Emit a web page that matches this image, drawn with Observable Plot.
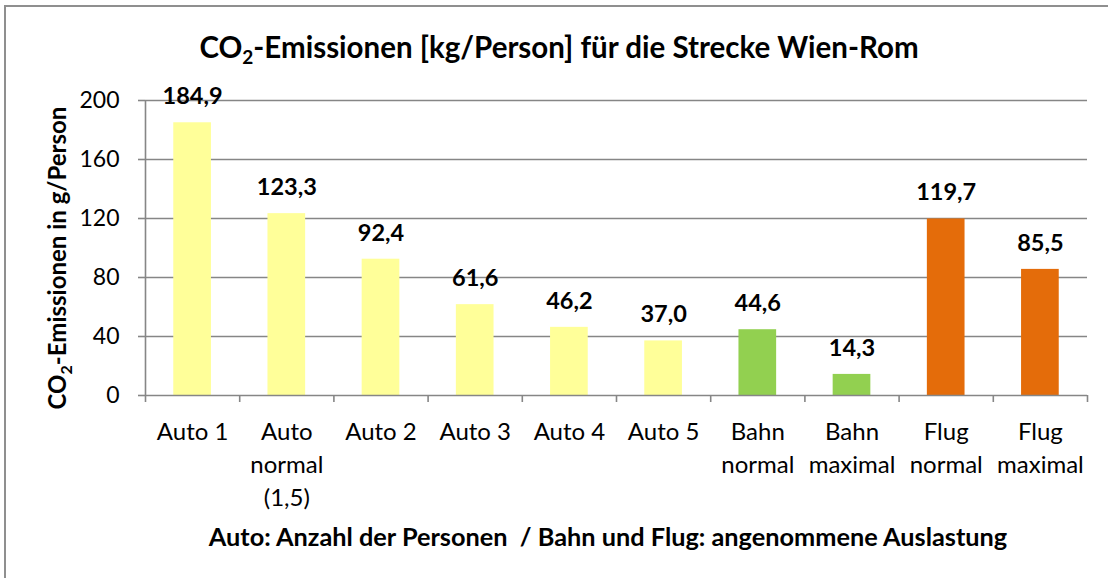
<!DOCTYPE html>
<html><head><meta charset="utf-8">
<script src="https://cdn.jsdelivr.net/npm/d3@7"></script>
<script src="https://cdn.jsdelivr.net/npm/@observablehq/plot@0.6"></script>
<style>
body{margin:0;background:#fff;font-family:Lato,"Open Sans",sans-serif;}
#wrap{position:relative;width:1108px;height:578px;overflow:hidden;background:#fff}
#frame{position:absolute;left:4px;top:5px;width:1200px;height:700px;border-top:2px solid #8f8f8f;border-left:2px solid #8f8f8f;box-sizing:border-box}
#title{position:absolute;left:0;top:29px;width:1118px;text-align:center;font-size:29.5px;font-weight:bold;line-height:36px;color:#000}
#title sub{font-size:19px;vertical-align:-6px;line-height:0}
#chart{position:absolute;left:0;top:70px}
#caption{position:absolute;left:0;top:520px;width:1216px;text-align:center;font-size:25.3px;font-weight:bold;line-height:32px;white-space:pre;color:#000}
</style></head>
<body>
<div id="wrap">
  <div id="frame"></div>
  <div id="title">CO<sub>2</sub>-Emissionen [kg/Person] für die Strecke Wien-Rom</div>
  <div id="chart"></div>
  <div id="caption">Auto: Anzahl der Personen  / Bahn und Flug: angenommene Auslastung</div>
</div>
<script>
const categories = ["Auto 1","Auto\nnormal\n(1,5)","Auto 2","Auto 3","Auto 4","Auto 5","Bahn\nnormal","Bahn\nmaximal","Flug\nnormal","Flug\nmaximal"];
const values = [184.9,123.3,92.4,61.6,46.2,37.0,44.6,14.3,119.7,85.5];
const groups = ["Auto","Auto","Auto","Auto","Auto","Auto","Bahn","Bahn","Flug","Flug"];
const groupNames = ["Auto","Bahn","Flug"];
const groupColors = ["#FFFF99","#92D050","#E46C0A"];
const yTicks = [0,40,80,120,160,200];

const data = categories.map((c,i)=>({i, category:c, value:values[i], group:groups[i]}));
const fmt = v => d3.format(".1f")(v).replace(".", ",");
const gridColor = "#868686";

const chart = Plot.plot({
  width: 1108,
  height: 508,
  marginLeft: 145,
  marginRight: 21,
  marginTop: 30,
  marginBottom: 183,
  style: {fontFamily: "Lato, 'Open Sans', sans-serif", fontSize: "23px", color: "#000", background: "transparent", overflow: "visible"},
  x: {type: "linear", domain: [0, categories.length]},
  y: {domain: [0, 200]},
  color: {domain: groupNames, range: groupColors},
  marks: [
    Plot.gridY(yTicks.slice(1), {stroke: gridColor, strokeOpacity: 1, strokeWidth: 1.6}),
    Plot.rectY(data, {x1: d => d.i + 0.3, x2: d => d.i + 0.7, y: "value", fill: "group"}),
    Plot.ruleY([0], {stroke: gridColor, strokeWidth: 1.6}),
    Plot.ruleX([0], {stroke: gridColor, strokeWidth: 1.6}),
    Plot.axisY(yTicks, {tickSize: 7, tickPadding: 19, label: null, stroke: gridColor, strokeWidth: 1.6, fill: "#000", fontSize: 23}),
    Plot.axisX(d3.range(categories.length + 1), {tickSize: 7, tickFormat: () => "", label: null, stroke: gridColor, strokeWidth: 1.6}),
    Plot.axisX(data.map(d => d.i + 0.5), {tickSize: 0, tickPadding: 21, label: null, tickFormat: v => categories[Math.floor(v)], fill: "#000", fontSize: 24, lineHeight: 1.38}),
    Plot.text(data, {x: d => d.i + 0.5, y: "value", text: d => fmt(d.value), dy: -26, fontWeight: "bold", fontSize: 23.5, fill: "#000"})
  ]
});
document.getElementById("chart").appendChild(chart);

// vertical axis label with subscript
const svg = d3.select(chart);
const lab = svg.append("text")
  .attr("transform", `translate(58,${258-70}) rotate(-90)`)
  .attr("text-anchor", "middle")
  .attr("dy", "0.35em")
  .attr("font-weight", "bold")
  .attr("font-size", 24)
  .attr("fill", "#000");
lab.append("tspan").text("CO");
lab.append("tspan").attr("font-size", 16).attr("dy", 6).text("2");
lab.append("tspan").attr("dy", -6).text("-Emissionen in g/Person");
</script>
</body></html>
